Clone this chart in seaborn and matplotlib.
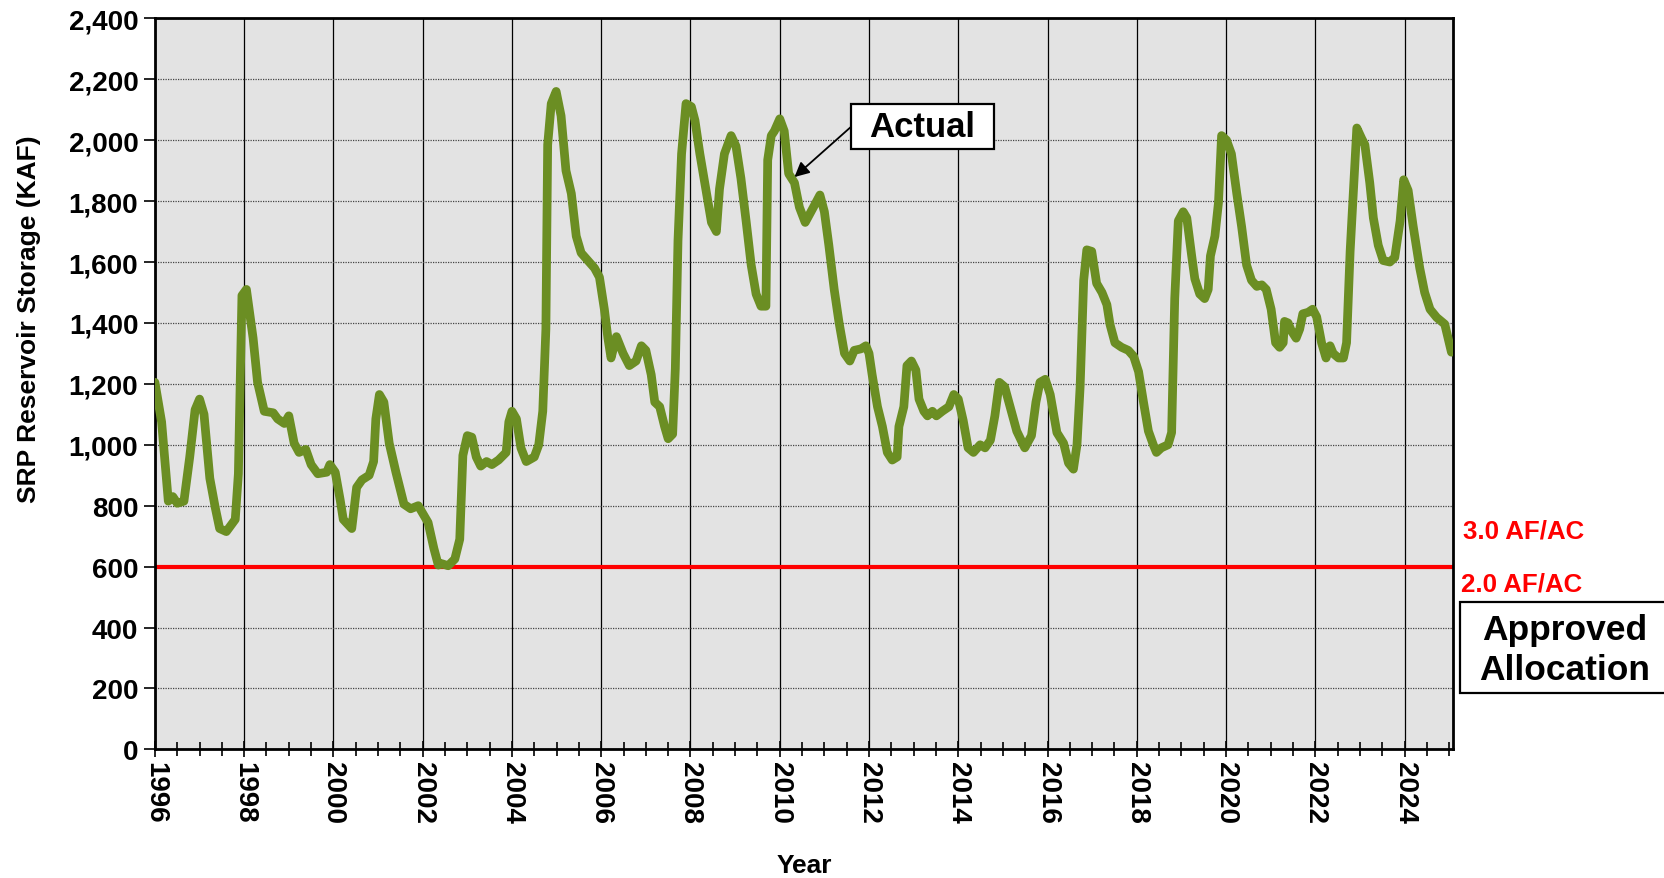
import numpy as np
import pandas as pd
import matplotlib
matplotlib.use("Agg")
import matplotlib.pyplot as plt
import matplotlib.ticker as mticker
from matplotlib.patches import Rectangle
import seaborn as sns

# storage readings (decimal year, KAF)
years = [
    1996.00, 1996.15, 1996.30, 1996.40, 1996.50, 1996.65, 1996.78, 1996.90,
    1997.00, 1997.10, 1997.23, 1997.35, 1997.45, 1997.60, 1997.80, 1997.87,
    1997.95, 1998.05, 1998.20, 1998.30, 1998.45, 1998.65, 1998.75, 1998.90,
    1999.00, 1999.12, 1999.23, 1999.38, 1999.50, 1999.65, 1999.85, 1999.92,
    2000.04, 2000.15, 2000.22, 2000.41, 2000.52, 2000.64, 2000.80, 2000.90,
    2000.95, 2001.03, 2001.13, 2001.25, 2001.40, 2001.58, 2001.73, 2001.90,
    2002.00, 2002.12, 2002.25, 2002.35, 2002.42, 2002.57, 2002.72, 2002.83,
    2002.90, 2003.00, 2003.10, 2003.20, 2003.30, 2003.43, 2003.55, 2003.70,
    2003.80, 2003.87, 2003.93, 2004.00, 2004.10, 2004.20, 2004.32, 2004.50,
    2004.60, 2004.69, 2004.76, 2004.80, 2004.88, 2004.99,
    2005.10, 2005.21, 2005.33, 2005.44, 2005.55, 2005.70, 2005.85, 2005.96,
    2006.07, 2006.15, 2006.22, 2006.34, 2006.49, 2006.63, 2006.78, 2006.90,
    2007.00, 2007.12, 2007.20, 2007.31, 2007.42, 2007.50, 2007.60, 2007.66,
    2007.72, 2007.80, 2007.90, 2008.02, 2008.10, 2008.21, 2008.36, 2008.47,
    2008.58, 2008.65, 2008.76, 2008.91, 2009.02, 2009.13, 2009.25, 2009.36,
    2009.47, 2009.58, 2009.69, 2009.73, 2009.81, 2009.88, 2010.00, 2010.10,
    2010.20, 2010.33, 2010.44, 2010.57, 2010.70, 2010.81, 2010.90, 2011.00,
    2011.10, 2011.22, 2011.33, 2011.45, 2011.57, 2011.67, 2011.82, 2011.93,
    2012.00, 2012.07, 2012.19, 2012.30, 2012.41, 2012.52, 2012.63, 2012.67,
    2012.78, 2012.85, 2012.95, 2013.05, 2013.12, 2013.23, 2013.31, 2013.42,
    2013.51, 2013.64, 2013.79, 2013.90,
    2014.00, 2014.11, 2014.22, 2014.34, 2014.49, 2014.60, 2014.72, 2014.82,
    2014.92, 2015.04, 2015.16, 2015.31, 2015.49, 2015.64, 2015.74, 2015.83,
    2015.95, 2016.06, 2016.21, 2016.36, 2016.47, 2016.58, 2016.66, 2016.73,
    2016.81, 2016.88, 2016.99, 2017.10, 2017.22, 2017.33, 2017.40, 2017.51,
    2017.66, 2017.81, 2017.93, 2018.04, 2018.15, 2018.26, 2018.37, 2018.44,
    2018.55, 2018.70, 2018.78, 2018.85, 2018.93, 2019.04, 2019.12, 2019.23,
    2019.30, 2019.41, 2019.52, 2019.60, 2019.65, 2019.75, 2019.83, 2019.90,
    2020.01, 2020.12, 2020.24, 2020.35, 2020.46, 2020.57, 2020.69, 2020.80,
    2020.90, 2021.01, 2021.11, 2021.20, 2021.28, 2021.31, 2021.39, 2021.46,
    2021.57, 2021.65, 2021.72, 2021.84, 2021.94, 2022.03, 2022.14, 2022.24,
    2022.33, 2022.40, 2022.52, 2022.63, 2022.70, 2022.78, 2022.85, 2022.93,
    2023.04, 2023.11, 2023.22, 2023.30, 2023.41, 2023.52, 2023.67, 2023.78,
    2023.90, 2023.98, 2024.08, 2024.19, 2024.34, 2024.45, 2024.57, 2024.72,
    2024.90, 2025.05,
]
storage = [
    1205, 1075, 815, 830, 808, 815, 960, 1115,
    1150, 1100, 890, 795, 725, 715, 755, 905,
    1490, 1510, 1350, 1205, 1110, 1105, 1085, 1070,
    1095, 1005, 975, 985, 935, 905, 910, 935,
    910, 820, 755, 725, 860, 885, 900, 945,
    1085, 1165, 1140, 1005, 910, 805, 790, 800,
    775, 745, 660, 605, 610, 603, 625, 690,
    965, 1030, 1025, 960, 930, 945, 935, 950,
    965, 975, 1075, 1110, 1085, 990, 945, 960,
    1000, 1110, 1380, 1985, 2120, 2160,
    2080, 1900, 1825, 1685, 1630, 1605, 1580, 1550,
    1445, 1350, 1285, 1355, 1300, 1260, 1275, 1325,
    1310, 1230, 1140, 1125, 1060, 1020, 1035, 1250,
    1670, 1955, 2120, 2110, 2065, 1955, 1825, 1730,
    1700, 1840, 1955, 2015, 1980, 1875, 1730, 1590,
    1495, 1455, 1455, 1935, 2015, 2030, 2070, 2030,
    1890, 1860, 1780, 1730, 1765, 1795, 1820, 1765,
    1655, 1510, 1400, 1300, 1275, 1310, 1315, 1325,
    1300, 1230, 1125, 1060, 975, 950, 960, 1060,
    1125, 1260, 1275, 1245, 1150, 1110, 1095, 1110,
    1095, 1110, 1125, 1165,
    1150, 1080, 990, 975, 1000, 990, 1015, 1095,
    1205, 1190, 1125, 1045, 990, 1030, 1140, 1205,
    1215, 1165, 1040, 1005, 940, 920, 1000, 1190,
    1540, 1640, 1635, 1530, 1500, 1460, 1395, 1335,
    1320, 1310, 1290, 1240, 1140, 1045, 1000, 975,
    990, 1000, 1040, 1480, 1735, 1765, 1745, 1620,
    1545, 1495, 1480, 1510, 1620, 1685, 1795, 2015,
    2000, 1955, 1825, 1715, 1590, 1540, 1520, 1525,
    1510, 1445, 1335, 1320, 1335, 1405, 1400, 1375,
    1350, 1380, 1430, 1435, 1445, 1420, 1335, 1285,
    1325, 1300, 1285, 1285, 1335, 1635, 1825, 2040,
    2005, 1985, 1860, 1745, 1655, 1605, 1600, 1615,
    1735, 1870, 1835, 1720, 1580, 1500, 1445, 1418,
    1396, 1304,
]
allocation_kaf = 600
year_ticks = list(range(1996, 2025, 2))
kaf_ticks = list(range(0, 2401, 200))

df = pd.DataFrame({"year": years, "storage": storage})

sns.set_theme(style="ticks")
plt.rcParams["font.family"] = ["Liberation Sans", "DejaVu Sans"]
plt.rcParams["font.weight"] = "bold"
for key in ["text.color", "axes.labelcolor", "xtick.color", "ytick.color"]:
    plt.rcParams[key] = "black"

fig = plt.figure(figsize=(16.64, 8.79), dpi=100)
ax = fig.add_axes([0.0931, 0.1463, 0.7801, 0.8317])
ax.set_facecolor("#e3e3e3")

# grid: dotted horizontals, solid verticals every two years
ax.yaxis.grid(True, linestyle=(0, (1, 1)), color="#444444", linewidth=0.9)
ax.xaxis.grid(True, which="major", linestyle="-", color="black", linewidth=0.9)
ax.set_axisbelow(True)

ax.axhline(allocation_kaf, color="#ff0000", linewidth=3, zorder=2)
sns.lineplot(data=df, x="year", y="storage", ax=ax, color="#6b8e23",
             linewidth=6.3, estimator=None, sort=False, zorder=3)

ax.set_xlim(1996, 2025.085)
ax.set_ylim(0, 2400)
ax.set_xticks(year_ticks)
ax.xaxis.set_minor_locator(mticker.MultipleLocator(0.5))
ax.set_yticks(kaf_ticks)
ax.yaxis.set_major_formatter(mticker.FuncFormatter(lambda v, p: f"{int(v):,}"))
ax.tick_params(axis="x", which="major", direction="inout", length=12, width=1.2,
               labelsize=20, labelrotation=-90, pad=2)
ax.tick_params(axis="x", which="minor", direction="inout", length=10, width=1.2)
ax.tick_params(axis="y", direction="out", length=8, width=1.2, labelsize=20, pad=4)
for lbl in ax.get_xticklabels() + ax.get_yticklabels():
    lbl.set_fontweight("bold")

for s in ax.spines.values():
    s.set_color("black")
    s.set_linewidth(2)

ax.set_xlabel("Year", fontsize=19, fontweight="bold", labelpad=22)
ax.set_ylabel("SRP Reservoir Storage (KAF)", fontsize=19, fontweight="bold")
ax.yaxis.set_label_coords(-0.088, 0.59)

# "Actual" callout
ax.add_patch(Rectangle((2011.59, 1971), 3.22, 148, facecolor="white",
                       edgecolor="black", linewidth=1.6, zorder=5))
ax.text(2013.2, 2045, "Actual", fontsize=25, fontweight="bold",
        ha="center", va="center", zorder=6)
ax.annotate("", xy=(2010.33, 1879), xytext=(2011.59, 2043),
            arrowprops=dict(arrowstyle="-|>", color="black", lw=1.3,
                            mutation_scale=22, shrinkA=0, shrinkB=0), zorder=6)

# right-hand allocation labels
fig.text(0.879, 0.3948, "3.0 AF/AC", color="#ff0000", fontsize=18.6,
         fontweight="bold", ha="left", va="center")
fig.text(0.878, 0.3356, "2.0 AF/AC", color="#ff0000", fontsize=18.6,
         fontweight="bold", ha="left", va="center")
fig.add_artist(Rectangle((0.8774, 0.2105), 0.13, 0.1035, transform=fig.transFigure,
                         facecolor="white", edgecolor="black", linewidth=1.6,
                         clip_on=False))
fig.text(0.9405, 0.2605, "Approved\nAllocation", fontsize=25.5, fontweight="bold",
         ha="center", va="center", linespacing=1.27)

fig.savefig("out.png", dpi=100)
